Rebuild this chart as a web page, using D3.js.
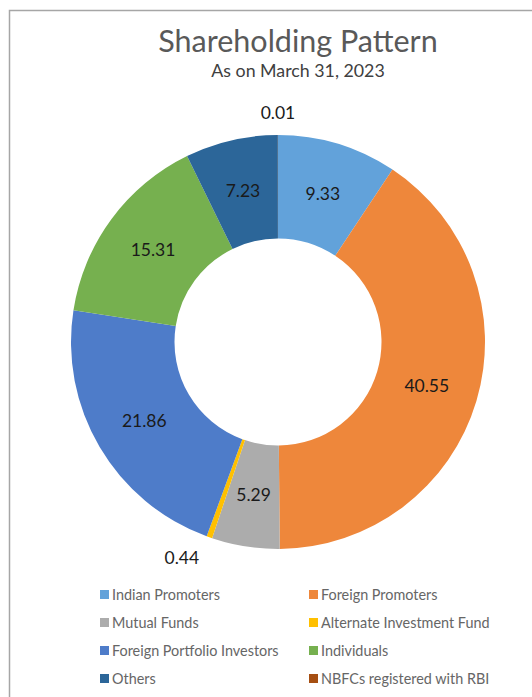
<!DOCTYPE html>
<html><head><meta charset="utf-8">
<script src="https://cdn.jsdelivr.net/npm/d3@7"></script>
<style>body{margin:0;background:#fff;}svg{display:block;font-family:Lato,"Open Sans",sans-serif;}</style>
</head><body>
<svg id="c" width="532" height="697"></svg>
<script>
const categories = ["Indian Promoters","Foreign Promoters","Mutual Funds","Alternate Investment Fund","Foreign Portfolio Investors","Individuals","Others","NBFCs registered with RBI"];
const values = [9.33, 40.55, 5.29, 0.44, 21.86, 15.31, 7.23, 0.01];
const labels = ["9.33","40.55","5.29","0.44","21.86","15.31","7.23","0.01"];
const colors = ["#62A2DA","#EE873B","#ACACAC","#FFC000","#4E7CC9","#76B04F","#2C6699","#A64F12"];
const title = "Shareholding Pattern";
const subtitle = "As on March 31, 2023";

const svg = d3.select("#c");
// frame
svg.append("path").attr("d","M9.5,697 V10.5 H532").attr("fill","none").attr("stroke","#A6A6A6").attr("stroke-width",1.5);

svg.append("text").attr("x",298).attr("y",52).attr("text-anchor","middle")
  .attr("font-size",30.5).attr("fill","#595959").text(title);
svg.append("text").attr("x",298).attr("y",77).attr("text-anchor","middle")
  .attr("font-size",17.8).attr("fill","#404040").text(subtitle);

const cx = 278, cy = 342, R = 207, r0 = 103.5;
const g = svg.append("g").attr("transform",`translate(${cx},${cy})`);
const pie = d3.pie().sort(null).value(d=>d.v);
const data = pie(values.map((v,i)=>({v,i})));
const arc = d3.arc().innerRadius(r0).outerRadius(R);
g.selectAll("path.s").data(data).join("path").attr("class","s")
  .attr("d",arc).attr("fill",d=>colors[d.data.i]);

const labelArc = d3.arc().innerRadius((R+r0)/2).outerRadius((R+r0)/2);
const outArc = d3.arc().innerRadius(R+22).outerRadius(R+22);
data.forEach(d=>{
  const small = d.data.v < 1;
  const p = small ? outArc.centroid(d) : labelArc.centroid(d);
  const mid = (d.startAngle+d.endAngle)/2;
  let anchor = "middle";
  if (small && Math.abs(Math.sin(mid))>0.2) anchor = Math.sin(mid)<0 ? "end":"start";
  g.append("text").attr("x",p[0] + (anchor==="end" ? -3 : 0)).attr("y",p[1]).attr("dy","0.35em")
    .attr("text-anchor",anchor).attr("font-size",17.5).attr("fill","#1a1a1a")
    .text(labels[d.data.i]);
});

// legend
const leg = svg.append("g");
categories.forEach((c,i)=>{
  const col = i%2, row = Math.floor(i/2);
  const x = col===0 ? 100 : 309, y = 595 + row*28;
  leg.append("rect").attr("x",x).attr("y",y-5).attr("width",9).attr("height",9).attr("fill",colors[i]);
  leg.append("text").attr("x",x+12).attr("y",y).attr("dy","0.35em")
    .attr("font-size",14.4).attr("fill","#666666").text(c);
});
</script>
</body></html>
